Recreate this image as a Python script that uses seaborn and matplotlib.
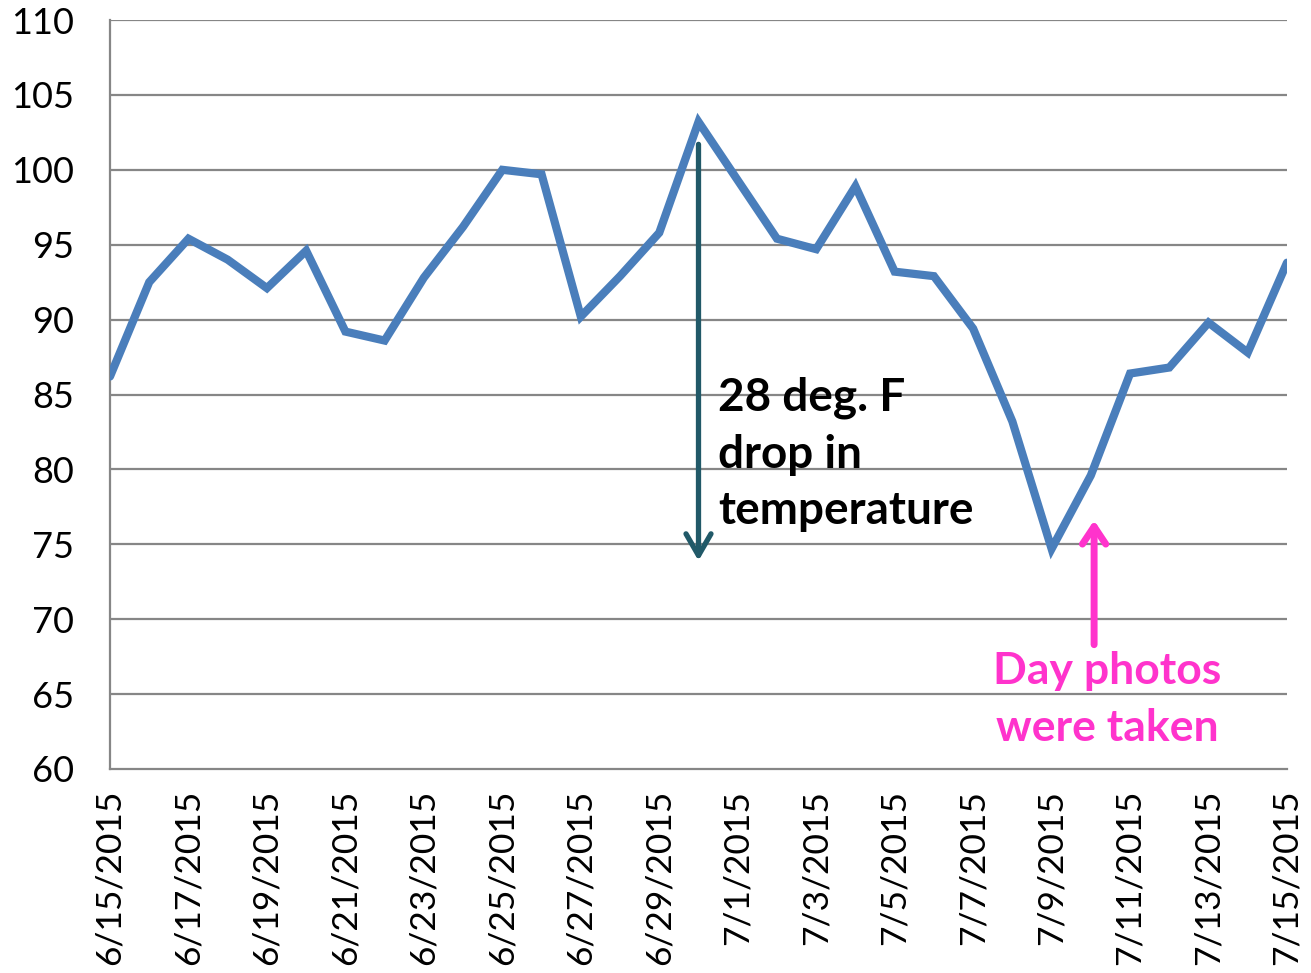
import matplotlib
matplotlib.use("Agg")
import matplotlib.pyplot as plt
import seaborn as sns
import pandas as pd

# Daily high temperature, 6/15/2015 - 7/15/2015 (deg F)
dates = pd.date_range("2015-06-15", "2015-07-15", freq="D")
temps = [86.2, 92.5, 95.4, 94.0, 92.1, 94.6, 89.2, 88.6, 92.8, 96.2,
         100.0, 99.7, 90.2, 92.9, 95.8, 103.2, 99.3, 95.4, 94.7, 98.9,
         93.2, 92.9, 89.4, 83.2, 74.7, 79.6, 86.4, 86.8, 89.8, 87.8, 93.8]
y_ticks = list(range(60, 111, 5))
tick_dates = dates[::2]
tick_labels = [f"{d.month}/{d.day}/{d.year}" for d in tick_dates]

df = pd.DataFrame({"date": dates, "temp": temps})

sns.set_theme(style="white")
plt.rcParams["font.family"] = ["Lato", "DejaVu Sans"]

W, H = 1311, 973
fig = plt.figure(figsize=(W / 100, H / 100), dpi=100)
ax = fig.add_axes([110 / W, 1 - 769 / H, (1287 - 110) / W, (769 - 20) / H])

grid_color = "#868686"
for v in y_ticks[1:]:
    ax.axhline(v, color=grid_color, lw=1.6, zorder=0)

sns.lineplot(data=df, x="date", y="temp", ax=ax, color="#4A7EBB",
             lw=5.9, zorder=3, solid_joinstyle="miter")

ax.set_xlim(dates[0], dates[-1])
ax.set_ylim(60, 110)
ax.set_yticks(y_ticks)
ax.set_yticklabels([str(v) for v in y_ticks], fontsize=26)
ax.set_xticks(tick_dates)
ax.set_xticklabels(tick_labels, rotation=90, fontsize=25.5)
ax.set_xlabel("")
ax.set_ylabel("")

for side in ("top", "right"):
    ax.spines[side].set_visible(False)
for side in ("left", "bottom"):
    ax.spines[side].set_color(grid_color)
    ax.spines[side].set_linewidth(1.6)
ax.tick_params(axis="both", direction="out", length=9, width=1.6,
               color=grid_color, labelcolor="black", pad=6)
ax.tick_params(axis="y", pad=17)

# Peak-to-trough drop annotation
drop_x = dates[15]
ax.annotate("", xy=(drop_x, 73.9), xytext=(drop_x, 101.7),
            arrowprops=dict(arrowstyle="->,head_length=1.3,head_width=0.75",
                            color="#215968", lw=3.8, shrinkA=0, shrinkB=0),
            zorder=4)
ax.text(dates[15] + pd.Timedelta(hours=12), 81.0,
        "28 deg. F\ndrop in\ntemperature", fontsize=33, fontweight="bold",
        color="black", ha="left", va="center", linespacing=1.42, zorder=5)

# Day the photos were taken
photo_x = dates[25] + pd.Timedelta(hours=2)
ax.annotate("", xy=(photo_x, 76.6), xytext=(photo_x, 68.3),
            arrowprops=dict(arrowstyle="->,head_length=1.05,head_width=0.7",
                            color="#FF33CC", lw=5.0, shrinkA=0, shrinkB=0,
                            capstyle="round", joinstyle="round"),
            zorder=4)
ax.text(dates[25] + pd.Timedelta(hours=10), 64.65, "Day photos\nwere taken",
        fontsize=32, fontweight="bold", color="#FF33CC", ha="center",
        va="center", linespacing=1.5, zorder=5)

fig.savefig("out.png", dpi=100, facecolor="white")
